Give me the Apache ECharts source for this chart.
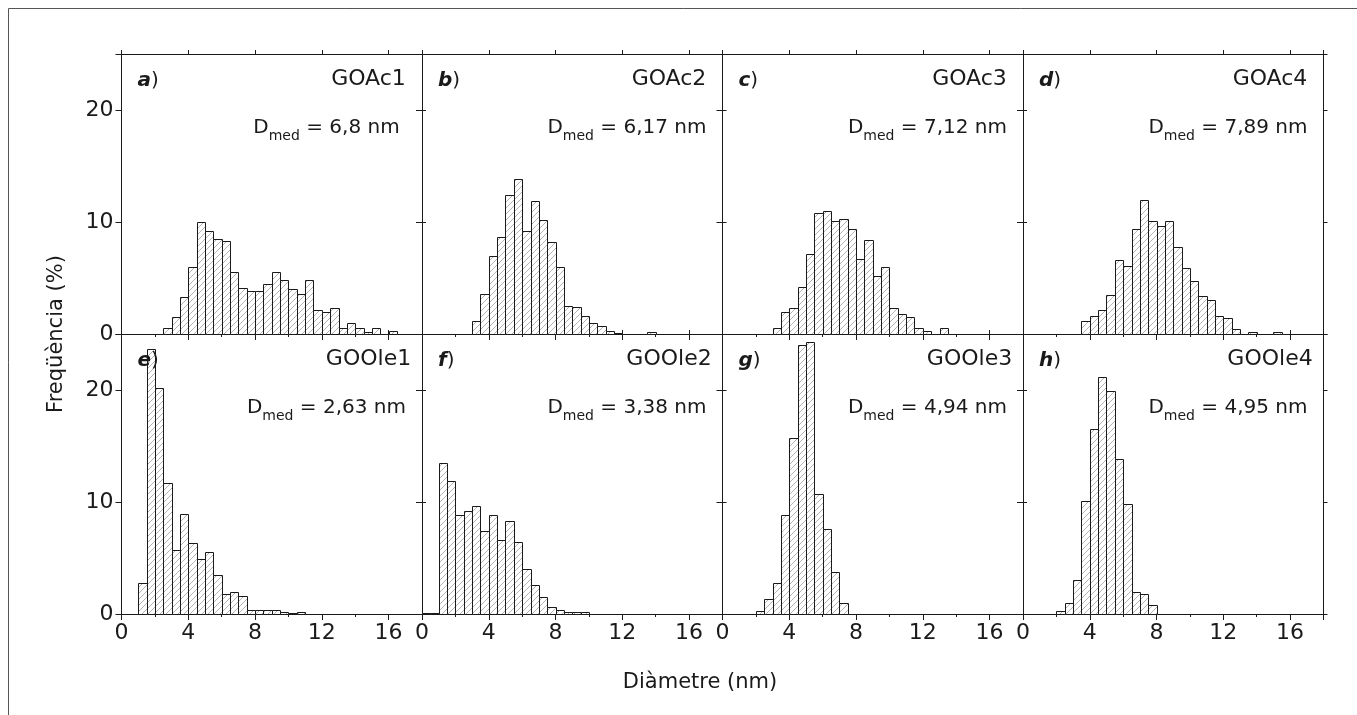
<!DOCTYPE html>
<html>
<head>
<meta charset="utf-8">
<title>Distribució de diàmetres</title>
<script src="https://cdn.jsdelivr.net/npm/echarts@6/dist/echarts.min.js"></script>
<style>
html, body { margin: 0; padding: 0; background: #fff; }
#chart { width: 1357px; height: 715px; }
</style>
</head>
<body>
<div id="chart"></div>
<script>
// amplada de classe (nm) i escales
var binWidth = 0.5;
var xMax = 18;
var yMax = 25;

var panelLetters = ['a', 'b', 'c', 'd', 'e', 'f', 'g', 'h'];
var sampleNames = ['GOAc1', 'GOAc2', 'GOAc3', 'GOAc4', 'GOOle1', 'GOOle2', 'GOOle3', 'GOOle4'];
var dmedValues = ['6,8', '6,17', '7,12', '7,89', '2,63', '3,38', '4,94', '4,95'];

// freqüència (%) per classe, començant a l'extrem indicat
var GOAc1_from = 2.5;
var GOAc1 = [0.5, 1.55, 3.3, 6.0, 10.0, 9.2, 8.5, 8.3, 5.5, 4.1, 3.85, 3.8, 4.5, 5.5, 4.8, 4.05, 3.55, 4.8, 2.1, 2.0, 2.3, 0.5, 1.0, 0.55, 0.2, 0.5, 0, 0.3];
var GOAc2_from = 3.0;
var GOAc2 = [1.2, 3.6, 7.0, 8.65, 12.4, 13.8, 9.2, 11.9, 10.15, 8.2, 6.0, 2.5, 2.4, 1.65, 0.95, 0.75, 0.25, 0.1, 0, 0, 0, 0.2];
var GOAc3_from = 3.0;
var GOAc3 = [0.5, 2.0, 2.3, 4.2, 7.15, 10.8, 11.0, 10.1, 10.3, 9.35, 6.7, 8.4, 5.2, 5.95, 2.3, 1.8, 1.55, 0.55, 0.3, 0, 0.55];
var GOAc4_from = 3.5;
var GOAc4 = [1.15, 1.65, 2.15, 3.5, 6.6, 6.1, 9.4, 11.95, 10.1, 9.6, 10.1, 7.8, 5.9, 4.75, 3.35, 3.05, 1.6, 1.45, 0.45, 0, 0.2, 0, 0, 0.2];
var GOOle1_from = 1.0;
var GOOle1 = [2.8, 23.65, 20.2, 11.7, 5.7, 8.9, 6.3, 4.9, 5.5, 3.5, 1.75, 1.95, 1.6, 0.4, 0.4, 0.4, 0.4, 0.15, 0.05, 0.15];
var GOOle2_from = 0;
var GOOle2 = [0.1, 0.1, 13.5, 11.9, 8.8, 9.2, 9.6, 7.4, 8.8, 6.65, 8.3, 6.4, 4.0, 2.6, 1.5, 0.65, 0.4, 0.2, 0.18, 0.15];
var GOOle3_from = 2.0;
var GOOle3 = [0.27, 1.3, 2.8, 8.8, 15.75, 24.0, 24.25, 10.75, 7.55, 3.75, 1.0];
var GOOle4_from = 2.0;
var GOOle4 = [0.27, 1.0, 3.0, 10.1, 16.5, 21.2, 19.9, 13.8, 9.8, 2.0, 1.8, 0.77];

var panelData = [GOAc1, GOAc2, GOAc3, GOAc4, GOOle1, GOOle2, GOOle3, GOOle4];
var panelFrom = [GOAc1_from, GOAc2_from, GOAc3_from, GOAc4_from, GOOle1_from, GOOle2_from, GOOle3_from, GOOle4_from];

var FONT = '"DejaVu Sans", "Liberation Sans", Arial, sans-serif';
var INK = '#1a1a1a';
var HATCH_STEP = 6;

// posició de les cel·les
var gridLeft = 121.5, gridTop = 54, cellW = 300.5, cellH = 280;

// ratlles "/" dins d'un rectangle
function hatchPath(x0, y0, x1, y1) {
    var p = '';
    var cStart = Math.ceil((x0 + y0) / HATCH_STEP) * HATCH_STEP;
    for (var c = cStart; c <= x1 + y1; c += HATCH_STEP) {
        var xa = Math.max(x0, c - y1), xb = Math.min(x1, c - y0);
        if (xb <= xa) continue;
        p += 'M' + xa + ' ' + (c - xa) + 'L' + xb + ' ' + (c - xb);
    }
    return p;
}

function renderBin(params, api) {
    var lo = api.value(0), hi = api.value(1), v = api.value(2);
    if (!v) return null;
    var p0 = api.coord([lo, v]);
    var p1 = api.coord([hi, 0]);
    var x0 = Math.round(p0[0]) + 0.5, x1 = Math.round(p1[0]) + 0.5;
    var y0 = Math.round(p0[1]) + 0.5, y1 = Math.round(p1[1]) + 0.5;
    var children = [{
        type: 'rect',
        shape: { x: x0, y: y0, width: x1 - x0, height: y1 - y0 },
        style: { fill: '#fff' }
    }];
    var hp = hatchPath(x0, y0, x1, y1);
    if (hp) {
        children.push({
            type: 'path',
            shape: { pathData: hp },
            style: { fill: null, stroke: '#a0a0a0', lineWidth: 0.8 }
        });
    }
    children.push({
        type: 'rect',
        shape: { x: x0, y: y0, width: x1 - x0, height: y1 - y0 },
        style: { fill: null, stroke: INK, lineWidth: 1 }
    });
    return { type: 'group', children: children };
}

function buildOption() {
    var grids = [], xAxes = [], yAxes = [], series = [], graphics = [];

    for (var i = 0; i < 8; i++) {
        var col = i % 4, row = Math.floor(i / 4);
        var pLeft = gridLeft + col * cellW, pTop = gridTop + row * cellH;
        grids.push({ left: pLeft, top: pTop, width: cellW, height: cellH, show: false });

        xAxes.push({
            gridIndex: i, type: 'value', min: 0, max: xMax, interval: 4, position: 'bottom',
            axisLine: { show: true, onZero: false, lineStyle: { color: INK, width: 1 } },
            axisTick: { show: true, inside: false, length: 6, lineStyle: { color: INK } },
            minorTick: { show: true, splitNumber: 2, length: 3, lineStyle: { color: INK } },
            splitLine: { show: false },
            axisLabel: {
                show: row === 1, color: INK, fontSize: 22, fontFamily: FONT, margin: 8,
                formatter: function (v) { return v > 16 ? '' : String(v); }
            }
        });

        yAxes.push({
            gridIndex: i, type: 'value', min: 0, max: yMax, interval: 10, position: 'left',
            axisLine: { show: true, onZero: false, lineStyle: { color: INK, width: 1 } },
            axisTick: { show: true, inside: false, length: 6, lineStyle: { color: INK } },
            splitLine: { show: false },
            axisLabel: {
                show: col === 0, color: INK, fontSize: 22, fontFamily: FONT, margin: 8,
                formatter: function (v) { return v > 20 ? '' : String(v); }
            }
        });

        var bins = [];
        var vals = panelData[i];
        for (var k = 0; k < vals.length; k++) {
            var edge = panelFrom[i] + k * binWidth;
            bins.push([edge, edge + binWidth, vals[k]]);
        }
        series.push({
            type: 'custom',
            name: sampleNames[i],
            xAxisIndex: i,
            yAxisIndex: i,
            renderItem: renderBin,
            encode: { x: [0, 1], y: 2 },
            data: bins,
            silent: true,
            z: 2
        });

        graphics.push({
            type: 'text', x: pLeft + 16, y: pTop + 27, z: 10,
            style: {
                text: '{b|' + panelLetters[i] + '}{n|)}',
                rich: {
                    b: { fontSize: 20, fontWeight: 'bold', fontStyle: 'italic', fontFamily: FONT, fill: INK },
                    n: { fontSize: 20, fontFamily: FONT, fill: INK }
                },
                align: 'left', verticalAlign: 'middle'
            }
        });
        graphics.push({
            type: 'text', x: pLeft + 247, y: pTop + 25, z: 10,
            style: {
                text: sampleNames[i], fontSize: 22, fontFamily: FONT, fill: INK,
                align: 'center', verticalAlign: 'middle'
            }
        });
        graphics.push({
            type: 'text', x: pLeft + 205, y: pTop + 82, z: 10,
            style: {
                text: '{m|D}{s|med}{m| = ' + dmedValues[i] + ' nm}',
                rich: {
                    m: { fontSize: 20, lineHeight: 22, verticalAlign: 'top', fontFamily: FONT, fill: INK },
                    s: { fontSize: 14, lineHeight: 36, fontFamily: FONT, fill: INK }
                },
                align: 'center', verticalAlign: 'middle'
            }
        });
    }

    // caixa de les cel·les (eixos superior i dret sense etiquetes)
    for (var j = 0; j < 8; j++) {
        xAxes.push({
            gridIndex: j, type: 'value', min: 0, max: xMax, interval: 4, position: 'top',
            axisLine: { show: true, onZero: false, lineStyle: { color: INK, width: 1 } },
            axisTick: { show: true, inside: false, length: 4, lineStyle: { color: INK } },
            axisLabel: { show: false }, splitLine: { show: false }
        });
        yAxes.push({
            gridIndex: j, type: 'value', min: 0, max: yMax, interval: 10, position: 'right',
            axisLine: { show: true, onZero: false, lineStyle: { color: INK, width: 1 } },
            axisTick: { show: true, inside: false, length: 4, lineStyle: { color: INK } },
            axisLabel: { show: false }, splitLine: { show: false }
        });
    }

    graphics.push({
        type: 'rect', z: 0, silent: true,
        shape: { x: 8.5, y: 8.5, width: 1400, height: 800 },
        style: { fill: 'none', stroke: '#555', lineWidth: 1 }
    });
    graphics.push({
        type: 'text', x: 700, y: 683, z: 10,
        style: { text: 'Diàmetre (nm)', fontSize: 21, fontFamily: FONT, fill: INK, align: 'center', verticalAlign: 'middle' }
    });
    graphics.push({
        type: 'text', x: 57, y: 334, z: 10, rotation: Math.PI / 2,
        style: { text: 'Freqüència (%)', fontSize: 21, fontFamily: FONT, fill: INK, align: 'center', verticalAlign: 'middle' }
    });

    return {
        backgroundColor: '#fff',
        animation: false,
        grid: grids,
        xAxis: xAxes,
        yAxis: yAxes,
        series: series,
        graphic: { elements: graphics }
    };
}

var myChart = echarts.init(document.getElementById('chart'));
myChart.setOption(buildOption());
</script>
</body>
</html>
